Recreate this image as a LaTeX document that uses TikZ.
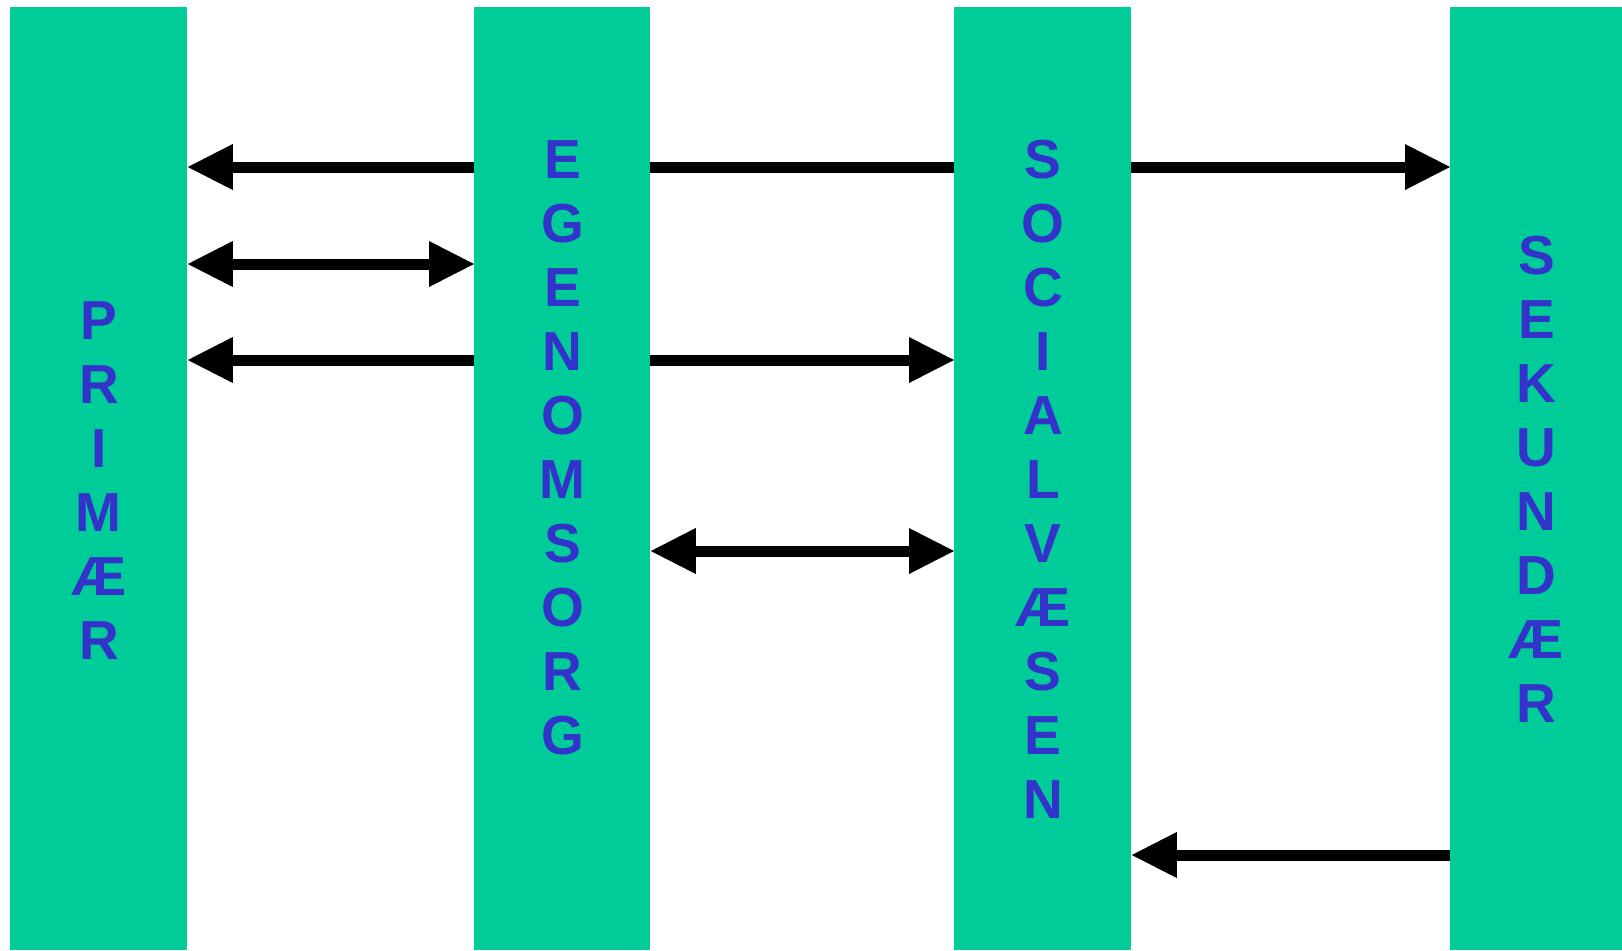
\documentclass[tikz,border=0pt]{standalone}
\usepackage{fontspec}
\setmainfont{Liberation Sans}
\usetikzlibrary{positioning,arrows.meta,backgrounds}

\definecolor{pillargreen}{HTML}{00CC99}
\definecolor{letterblue}{HTML}{3333CC}

\tikzset{
  >={Triangle[length=22.5pt,width=23pt,line width=0pt]},
  pillar/.style={fill=pillargreen, draw=none, anchor=north west, minimum height=471.5pt, inner sep=0pt},
  vtext/.style={text=letterblue, font=\bfseries\fontsize{27.5}{32}\selectfont, align=center, inner sep=0pt},
  link/.style={line width=5.5pt, draw=black}
}

\begin{document}
\begin{tikzpicture}[x=0.5pt,y=-0.5pt]
    \useasboundingbox (0,0) rectangle (1622,950);
    % the four columns
    \node[pillar, minimum width=88.5pt] (prim) at (10,7) {};
    \node[pillar, minimum width=88pt] (egen) at (474,7) {};
    \node[pillar, minimum width=88.5pt] (soc) at (954,7) {};
    \node[pillar, minimum width=86pt] (sek) at (1450,7) {};
    % stacked words
    \node[vtext, below=147pt of prim.north] (primtxt) {P\\R\\I\\M\\Æ\\R};
    \node[vtext, below=66.5pt of egen.north] (egentxt) {E\\G\\E\\N\\O\\M\\S\\O\\R\\G};
    \node[vtext, below=66.5pt of soc.north] (soctxt) {S\\O\\C\\I\\A\\L\\V\\Æ\\S\\E\\N};
    \node[vtext, below=114.5pt of sek.north] (sektxt) {S\\E\\K\\U\\N\\D\\Æ\\R};
    % rows of the arrows
    \coordinate (r1) at (0,167);
    \coordinate (r2) at (0,264);
    \coordinate (r3) at (0,360);
    \coordinate (r4) at (0,551);
    \coordinate (r5) at (0,855);
    \begin{scope}[on background layer]
    \draw[link, <->] (prim.east |- r1) -- (sek.west |- r1);
    \draw[link, <->] (prim.east |- r2) -- (egen.west |- r2);
    \draw[link, <->] (prim.east |- r3) -- (soc.west |- r3);
    \draw[link, <->] (egen.east |- r4) -- (soc.west |- r4);
    \draw[link, ->] (sek.west |- r5) -- (soc.east |- r5);
    \end{scope}
\end{tikzpicture}
\end{document}
